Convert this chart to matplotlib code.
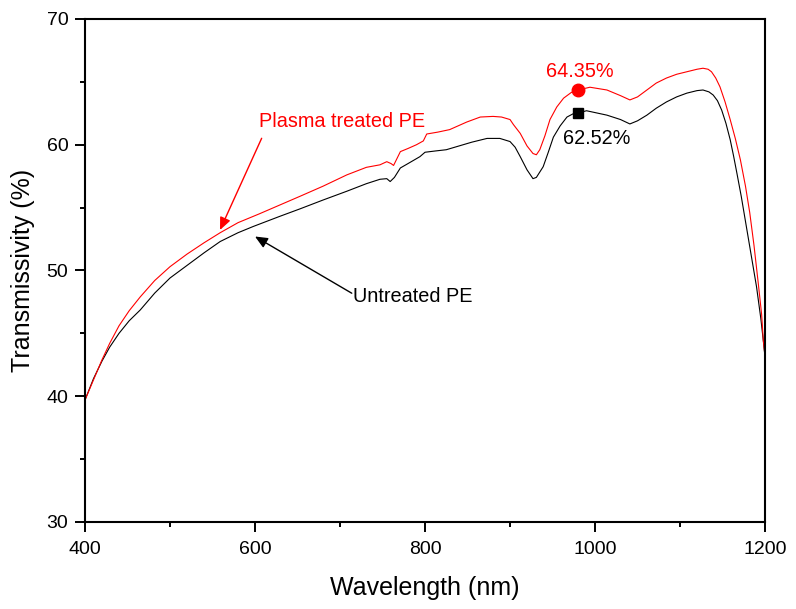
import matplotlib
matplotlib.use("Agg")
import matplotlib.pyplot as plt
from matplotlib.ticker import MultipleLocator

plt.rcParams['font.family'] = ['Liberation Sans', 'DejaVu Sans']

# wavelength (nm) and transmissivity (%)
wl_plasma = [400, 410, 420, 429, 440, 452, 465, 482, 500, 520, 540, 559, 580, 605, 629, 653, 680, 708, 731,
             747, 755, 760, 763, 767, 771, 780, 790, 798, 802, 815, 829, 849, 865, 880, 890, 900, 904, 912,
             920, 927, 931, 935, 941, 947, 955, 963, 972, 980, 994, 1014, 1030, 1041, 1050, 1061, 1072, 1084,
             1096, 1108, 1120, 1127, 1133, 1137, 1142, 1147, 1153, 1159, 1165, 1171, 1177, 1182, 1187, 1192,
             1196, 1198, 1200]
t_plasma = [39.7, 41.3, 42.9, 44.2, 45.6, 46.8, 47.9, 49.2, 50.3, 51.3, 52.2, 53.0, 53.8, 54.5, 55.2, 55.9, 56.7,
            57.6, 58.2, 58.4, 58.65, 58.5, 58.35, 58.9, 59.45, 59.7, 60.0, 60.3, 60.85, 61.0, 61.2, 61.8, 62.2,
            62.25, 62.2, 62.0, 61.6, 60.9, 59.9, 59.3, 59.2, 59.6, 60.7, 62.0, 63.0, 63.7, 64.15, 64.35, 64.57,
            64.35, 63.9, 63.56, 63.8, 64.35, 64.9, 65.3, 65.6, 65.8, 66.0, 66.08, 66.0, 65.8, 65.3, 64.6, 63.4,
            62.0, 60.5, 58.8, 56.7, 54.6, 52.0, 49.0, 46.5, 44.4, 43.2]

wl_untreated = [400, 410, 420, 429, 440, 452, 465, 482, 500, 520, 540, 559, 580, 598, 629, 653, 680, 708, 731,
                747, 755, 759, 764, 771, 780, 794, 800, 812, 825, 840, 855, 873, 888, 900, 906, 912, 920, 927,
                931, 939, 945, 951, 959, 967, 974, 980, 990, 1014, 1030, 1041, 1050, 1061, 1072, 1084, 1096, 1108,
                1120, 1127, 1134, 1139, 1144, 1149, 1154, 1159, 1163, 1167, 1172, 1178, 1184, 1190, 1195, 1198, 1200]
t_untreated = [39.7, 41.4, 42.8, 43.9, 45.0, 46.0, 46.86, 48.2, 49.4, 50.4, 51.4, 52.3, 53.0, 53.5, 54.3, 54.9, 55.6,
               56.3, 56.9, 57.25, 57.3, 57.07, 57.4, 58.15, 58.5, 59.05, 59.4, 59.5, 59.6, 59.9, 60.2, 60.5, 60.5,
               60.25, 59.8, 59.05, 58.0, 57.3, 57.4, 58.25, 59.4, 60.6, 61.5, 62.2, 62.45, 62.52, 62.7, 62.35,
               62.0, 61.65, 61.9, 62.35, 62.9, 63.4, 63.8, 64.1, 64.3, 64.35, 64.2, 63.95, 63.5, 62.75, 61.7, 60.4,
               59.1, 57.7, 55.9, 53.5, 51.1, 48.7, 46.2, 44.4, 43.1]

peak_wl = 980
peak_plasma = 64.35
peak_untreated = 62.52

fig = plt.figure(figsize=(7.96, 6.09), dpi=100)
ax = fig.add_axes([0.1068, 0.1429, 0.8543, 0.826])

ax.plot(wl_untreated, t_untreated, color='black', lw=0.8)
ax.plot(wl_plasma, t_plasma, color='red', lw=0.8)
ax.plot(peak_wl, peak_plasma, 'o', color='red', ms=9)
ax.plot(peak_wl, peak_untreated, 's', color='black', ms=7)

ax.text(982, 65.79, '64.35%', color='red', fontsize=14.3, ha='center', va='center')
ax.text(1002, 60.46, '62.52%', color='black', fontsize=14.3, ha='center', va='center')

ax.text(702, 61.83, 'Plasma treated PE', color='red', fontsize=14.3, ha='center', va='center')
ax.annotate('', xy=(558.8, 53.22), xytext=(607.8, 60.51),
            arrowprops=dict(arrowstyle='-|>,head_length=0.5,head_width=0.22', color='red', lw=1.0,
                            mutation_scale=15, shrinkA=0, shrinkB=0))
ax.text(786, 47.9, 'Untreated PE', color='black', fontsize=14.3, ha='center', va='center')
ax.annotate('', xy=(600, 52.7), xytext=(713.8, 48.19),
            arrowprops=dict(arrowstyle='-|>,head_length=0.5,head_width=0.22', color='black', lw=1.0,
                            mutation_scale=15, shrinkA=0, shrinkB=0))

ax.set_xlim(400, 1200)
ax.set_ylim(30, 70)
ax.xaxis.set_major_locator(MultipleLocator(200))
ax.xaxis.set_minor_locator(MultipleLocator(100))
ax.yaxis.set_major_locator(MultipleLocator(10))
ax.yaxis.set_minor_locator(MultipleLocator(5))
ax.tick_params(which='major', direction='out', length=7, width=1.4, labelsize=14, pad=5)
ax.tick_params(axis='x', which='major', pad=7)
ax.tick_params(which='minor', direction='out', length=3.5, width=1.4)
for s in ax.spines.values():
    s.set_linewidth(1.5)

ax.set_xlabel('Wavelength (nm)', fontsize=18, labelpad=13)
ax.set_ylabel('Transmissivity (%)', fontsize=18, labelpad=8)

fig.savefig('out.png', dpi=100)
